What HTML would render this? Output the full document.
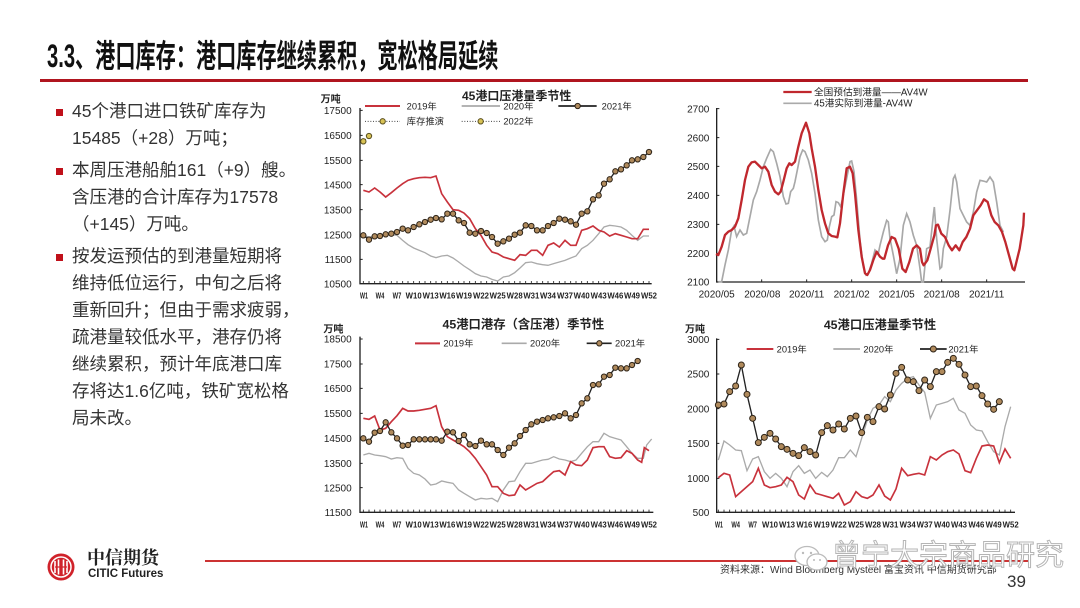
<!DOCTYPE html>
<html><head><meta charset="utf-8">
<style>
html,body{margin:0;padding:0;background:#fff;}
body{width:1080px;height:608px;position:relative;overflow:hidden;font-family:"Liberation Sans","Noto Sans CJK SC",sans-serif;}
.abs{position:absolute;}
.title{left:47px;top:40px;font-size:32px;line-height:32px;font-weight:bold;color:#111;white-space:nowrap;transform:scaleX(0.63);transform-origin:0 0;}
.bar{left:40px;top:79px;width:988px;height:3px;background:#b0151f;}
.txt{left:72px;font-size:17.5px;line-height:27px;color:#333;white-space:nowrap;}
.sq{width:7px;height:7px;background:#c0101a;left:56px;}
svg.c{position:absolute;font-family:"Liberation Sans","Noto Sans CJK SC",sans-serif;}
svg.c text{fill:#222;}
</style></head><body>

<div class="abs title">3.3、港口库存：港口库存继续累积，宽松格局延续</div>
<div class="abs bar"></div>

<div class="abs sq" style="top:109px"></div>
<div class="abs txt" style="top:98px">45个港口进口铁矿库存为<br>15485（+28）万吨；</div>
<div class="abs sq" style="top:168px"></div>
<div class="abs txt" style="top:157px">本周压港船舶161（+9）艘。<br>含压港的合计库存为17578<br>（+145）万吨。</div>
<div class="abs sq" style="top:254px"></div>
<div class="abs txt" style="top:243px">按发运预估的到港量短期将<br>维持低位运行，中旬之后将<br>重新回升；但由于需求疲弱，<br>疏港量较低水平，港存仍将<br>继续累积，预计年底港口库<br>存将达1.6亿吨，铁矿宽松格<br>局未改。</div>

<!-- Chart 1 -->
<svg class="c" style="left:310px;top:82px" width="360" height="220" viewBox="0 0 1080 660">
<defs>
<marker id="m1" viewBox="-12 -12 24 24" markerWidth="24" markerHeight="24" markerUnits="userSpaceOnUse"><circle r="8" fill="#b08a5c" stroke="#2e2418" stroke-width="3"/></marker>
</defs>
<text x="620" y="54" text-anchor="middle" font-size="36" font-weight="bold">45港口压港量季节性</text>
<text x="62" y="61" text-anchor="middle" font-size="30" font-weight="bold">万吨</text>
<g font-size="28">
<line x1="165" y1="72" x2="270" y2="72" stroke="#c8323c" stroke-width="6"/>
<text x="290" y="82">2019年</text>
<line x1="455" y1="72" x2="570" y2="72" stroke="#aaa" stroke-width="5"/>
<text x="580" y="82">2020年</text>
<line x1="745" y1="72" x2="860" y2="72" stroke="#222" stroke-width="5"/>
<circle cx="803" cy="72" r="8" fill="#b08a5c" stroke="#2e2418" stroke-width="3"/>
<text x="875" y="82">2021年</text>
<line x1="165" y1="118" x2="270" y2="118" stroke="#444" stroke-width="3" stroke-dasharray="3 5"/>
<circle cx="218" cy="118" r="8" fill="#d8c255" stroke="#5a5020" stroke-width="3"/>
<text x="290" y="128">库存推演</text>
<line x1="455" y1="118" x2="570" y2="118" stroke="#444" stroke-width="3" stroke-dasharray="3 5"/>
<circle cx="512" cy="118" r="8" fill="#d8c255" stroke="#5a5020" stroke-width="3"/>
<text x="580" y="128">2022年</text>
</g>
<g font-size="30" text-anchor="end">
<text x="125" y="96">17500</text><text x="125" y="171">16500</text><text x="125" y="246">15500</text><text x="125" y="319">14500</text><text x="125" y="394">13500</text><text x="125" y="469">12500</text><text x="125" y="543">11500</text><text x="125" y="616">10500</text>
</g>
<path d="M150 78V605H1025" stroke="#222" stroke-width="4" fill="none"/>
<path d="M150 85h8M150 160h8M150 235h8M150 308h8M150 383h8M150 458h8M150 532h8" stroke="#222" stroke-width="3"/>
<path d="M160 605v-8M177 605v-8M194 605v-8M210 605v-8M227 605v-8M244 605v-8M261 605v-8M278 605v-8M294 605v-8M311 605v-8M328 605v-8M345 605v-8M362 605v-8M378 605v-8M395 605v-8M412 605v-8M429 605v-8M446 605v-8M462 605v-8M479 605v-8M496 605v-8M513 605v-8M530 605v-8M546 605v-8M563 605v-8M580 605v-8M597 605v-8M614 605v-8M630 605v-8M647 605v-8M664 605v-8M681 605v-8M698 605v-8M714 605v-8M731 605v-8M748 605v-8M765 605v-8M782 605v-8M798 605v-8M815 605v-8M832 605v-8M849 605v-8M866 605v-8M882 605v-8M899 605v-8M916 605v-8M933 605v-8M950 605v-8M966 605v-8M983 605v-8M1000 605v-8M1017 605v-8" stroke="#222" stroke-width="2.5"/>
<g font-size="26" font-weight="bold" text-anchor="middle">
<text x="162" y="649" textLength="24" lengthAdjust="spacingAndGlyphs">W1</text><text x="210" y="649" textLength="26" lengthAdjust="spacingAndGlyphs">W4</text><text x="261" y="649" textLength="26" lengthAdjust="spacingAndGlyphs">W7</text><text x="311" y="649" textLength="48" lengthAdjust="spacingAndGlyphs">W10</text><text x="362" y="649" textLength="48" lengthAdjust="spacingAndGlyphs">W13</text><text x="412" y="649" textLength="48" lengthAdjust="spacingAndGlyphs">W16</text><text x="462" y="649" textLength="48" lengthAdjust="spacingAndGlyphs">W19</text><text x="513" y="649" textLength="48" lengthAdjust="spacingAndGlyphs">W22</text><text x="563" y="649" textLength="48" lengthAdjust="spacingAndGlyphs">W25</text><text x="614" y="649" textLength="48" lengthAdjust="spacingAndGlyphs">W28</text><text x="664" y="649" textLength="48" lengthAdjust="spacingAndGlyphs">W31</text><text x="714" y="649" textLength="48" lengthAdjust="spacingAndGlyphs">W34</text><text x="765" y="649" textLength="48" lengthAdjust="spacingAndGlyphs">W37</text><text x="815" y="649" textLength="48" lengthAdjust="spacingAndGlyphs">W40</text><text x="866" y="649" textLength="48" lengthAdjust="spacingAndGlyphs">W43</text><text x="916" y="649" textLength="48" lengthAdjust="spacingAndGlyphs">W46</text><text x="966" y="649" textLength="48" lengthAdjust="spacingAndGlyphs">W49</text><text x="1017" y="649" textLength="48" lengthAdjust="spacingAndGlyphs">W52</text>
</g>
<polyline fill="none" stroke="#aaa" stroke-width="4" points="160,460 177,465 194,462 210,460 227,458 244,458 261,460 278,475 294,488 311,498 328,505 345,512 362,522 378,527 395,522 412,520 429,528 446,540 462,552 479,563 496,575 513,582 530,585 546,592 563,597 580,585 597,582 614,572 630,558 647,542 664,540 681,545 698,548 714,550 731,545 748,540 765,535 782,528 798,522 815,500 832,490 849,475 866,455 882,435 899,430 916,432 933,435 950,445 966,460 983,475 1000,462 1017,462"/>
<polyline fill="none" stroke="#c8323c" stroke-width="5" points="160,325 177,330 194,318 210,330 227,345 244,332 261,318 278,305 294,295 311,290 328,287 345,286 362,287 378,282 395,335 412,360 429,383 446,385 462,393 479,410 496,440 513,460 530,490 546,510 563,515 580,525 597,530 614,535 630,518 647,520 664,505 681,505 698,520 714,490 731,483 748,495 765,475 782,490 798,490 815,445 832,440 849,432 866,445 882,450 899,462 916,455 933,460 950,465 966,470 983,470 1000,442 1017,442"/>
<polyline fill="none" stroke="#222" stroke-width="4" marker-start="url(#m1)" marker-mid="url(#m1)" marker-end="url(#m1)" points="160,460 177,473 194,463 210,462 227,457 244,455 261,450 278,440 294,445 311,435 328,427 345,420 362,413 378,408 395,412 412,395 429,395 446,415 462,423 479,452 496,455 513,447 530,453 546,465 563,485 580,478 597,470 614,458 630,452 647,430 664,432 681,445 698,445 714,432 731,423 748,410 765,413 782,418 798,428 815,395 832,388 849,352 866,340 882,305 899,292 916,268 933,262 950,250 966,235 983,232 1000,225 1017,210"/>
<line x1="160" y1="178" x2="177" y2="162" stroke="#444" stroke-width="3" stroke-dasharray="3 4"/>
<circle cx="160" cy="178" r="8" fill="#d8c255" stroke="#5a5020" stroke-width="3"/>
<circle cx="177" cy="162" r="8" fill="#d8c255" stroke="#5a5020" stroke-width="3"/>
</svg>

<!-- Chart 2 -->
<svg class="c" style="left:670px;top:82px" width="370" height="220" viewBox="0 0 1110 660">
<g font-size="29">
<line x1="340" y1="30" x2="425" y2="30" stroke="#c0282e" stroke-width="7"/>
<text x="432" y="40">全国预估到港量——AV4W</text>
<line x1="340" y1="64" x2="425" y2="64" stroke="#aaa" stroke-width="5"/>
<text x="432" y="74">45港实际到港量-AV4W</text>
</g>
<g font-size="30" text-anchor="end">
<text x="118" y="91">2700</text><text x="118" y="178">2600</text><text x="118" y="264">2500</text><text x="118" y="351">2400</text><text x="118" y="438">2300</text><text x="118" y="525">2200</text><text x="118" y="611">2100</text>
</g>
<g font-size="30" text-anchor="middle">
<text x="140" y="646">2020/05</text><text x="277" y="646">2020/08</text><text x="410" y="646">2020/11</text><text x="545" y="646">2021/02</text><text x="680" y="646">2021/05</text><text x="815" y="646">2021/08</text><text x="950" y="646">2021/11</text>
</g>
<path d="M140 78V600H1065" stroke="#222" stroke-width="4" fill="none"/>
<path d="M140 80h8M140 167h8M140 253h8M140 340h8M140 427h8M140 514h8M275 600v-8M410 600v-8M545 600v-8M680 600v-8M815 600v-8M950 600v-8" stroke="#222" stroke-width="3"/>
<polyline fill="none" stroke="#a8a8a8" stroke-width="5" points="145,599 155,599 165,549 175,504 185,444 192,432 200,464 210,444 220,459 230,454 240,404 250,354 260,329 270,294 280,254 290,229 302,202 310,209 320,244 330,284 340,344 348,366 355,364 362,329 370,319 375,299 382,264 390,224 398,204 405,209 415,234 425,274 435,334 445,414 455,464 465,479 472,474 478,434 485,404 492,399 498,359 505,362 512,374 520,339 530,289 540,239 545,237 552,269 560,354 570,474 580,554 588,579 595,574 605,544 615,504 625,514 630,490 640,450 650,415 655,420 660,470 670,520 680,575 690,530 700,430 710,395 720,420 730,460 740,490 750,560 755,600 760,600 770,500 780,495 790,400 793,375 800,470 810,560 815,555 820,500 830,465 840,385 850,290 855,280 860,300 870,380 880,400 890,420 900,430 910,390 920,330 930,295 940,297 950,300 960,285 970,300 980,360 990,430 1000,450"/>
<polyline fill="none" stroke="#c0282e" stroke-width="7" stroke-linejoin="round" points="138,516 145,519 155,494 165,459 175,449 185,444 195,434 205,409 215,354 225,294 235,254 245,241 255,239 265,249 275,259 285,254 295,269 305,309 315,329 325,337 332,329 340,299 350,259 358,244 365,249 375,239 385,194 395,154 408,122 418,154 425,199 435,254 445,324 455,384 465,424 475,454 485,462 495,464 502,466 510,424 520,334 530,259 540,254 548,274 555,334 565,444 575,524 585,574 592,579 600,564 610,534 620,509 630,524 638,530 643,530 654,490 665,465 675,470 686,500 697,560 707,570 718,540 729,500 740,490 750,500 756,540 761,550 772,535 782,500 793,460 798,430 804,428 814,455 825,465 836,490 846,505 857,490 868,505 878,480 889,465 900,440 910,400 921,385 932,370 942,352 953,360 964,400 974,420 985,430 996,450 1006,480 1017,520 1028,560 1033,565 1038,545 1049,500 1060,430 1062,392"/>
</svg>

<!-- Chart 3 -->
<svg class="c" style="left:310px;top:305px" width="360" height="225" viewBox="0 0 1080 675">
<defs>
<marker id="m3" viewBox="-12 -12 24 24" markerWidth="24" markerHeight="24" markerUnits="userSpaceOnUse"><circle r="8" fill="#b08a5c" stroke="#2e2418" stroke-width="3"/></marker>
</defs>
<text x="640" y="70" text-anchor="middle" font-size="37" font-weight="bold">45港口港存（含压港）季节性</text>
<text x="70" y="83" text-anchor="middle" font-size="30" font-weight="bold">万吨</text>
<g font-size="28">
<line x1="315" y1="115" x2="390" y2="115" stroke="#c8323c" stroke-width="6"/>
<text x="400" y="125">2019年</text>
<line x1="575" y1="115" x2="650" y2="115" stroke="#aaa" stroke-width="5"/>
<text x="660" y="125">2020年</text>
<line x1="830" y1="115" x2="905" y2="115" stroke="#222" stroke-width="5"/>
<circle cx="868" cy="115" r="8" fill="#b08a5c" stroke="#2e2418" stroke-width="3"/>
<text x="915" y="125">2021年</text>
</g>
<g font-size="30" text-anchor="end">
<text x="125" y="113">18500</text><text x="125" y="188">17500</text><text x="125" y="261">16500</text><text x="125" y="336">15500</text><text x="125" y="411">14500</text><text x="125" y="486">13500</text><text x="125" y="559">12500</text><text x="125" y="633">11500</text>
</g>
<path d="M150 95V622H1030" stroke="#222" stroke-width="4" fill="none"/>
<path d="M150 102h8M150 177h8M150 250h8M150 325h8M150 400h8M150 475h8M150 548h8" stroke="#222" stroke-width="3"/>
<path d="M160 622v-8M177 622v-8M194 622v-8M210 622v-8M227 622v-8M244 622v-8M261 622v-8M278 622v-8M294 622v-8M311 622v-8M328 622v-8M345 622v-8M362 622v-8M378 622v-8M395 622v-8M412 622v-8M429 622v-8M446 622v-8M462 622v-8M479 622v-8M496 622v-8M513 622v-8M530 622v-8M546 622v-8M563 622v-8M580 622v-8M597 622v-8M614 622v-8M630 622v-8M647 622v-8M664 622v-8M681 622v-8M698 622v-8M714 622v-8M731 622v-8M748 622v-8M765 622v-8M782 622v-8M798 622v-8M815 622v-8M832 622v-8M849 622v-8M866 622v-8M882 622v-8M899 622v-8M916 622v-8M933 622v-8M950 622v-8M966 622v-8M983 622v-8M1000 622v-8M1017 622v-8" stroke="#222" stroke-width="2.5"/>
<g font-size="26" font-weight="bold" text-anchor="middle">
<text x="162" y="668" textLength="24" lengthAdjust="spacingAndGlyphs">W1</text><text x="210" y="668" textLength="26" lengthAdjust="spacingAndGlyphs">W4</text><text x="261" y="668" textLength="26" lengthAdjust="spacingAndGlyphs">W7</text><text x="311" y="668" textLength="48" lengthAdjust="spacingAndGlyphs">W10</text><text x="362" y="668" textLength="48" lengthAdjust="spacingAndGlyphs">W13</text><text x="412" y="668" textLength="48" lengthAdjust="spacingAndGlyphs">W16</text><text x="462" y="668" textLength="48" lengthAdjust="spacingAndGlyphs">W19</text><text x="513" y="668" textLength="48" lengthAdjust="spacingAndGlyphs">W22</text><text x="563" y="668" textLength="48" lengthAdjust="spacingAndGlyphs">W25</text><text x="614" y="668" textLength="48" lengthAdjust="spacingAndGlyphs">W28</text><text x="664" y="668" textLength="48" lengthAdjust="spacingAndGlyphs">W31</text><text x="714" y="668" textLength="48" lengthAdjust="spacingAndGlyphs">W34</text><text x="765" y="668" textLength="48" lengthAdjust="spacingAndGlyphs">W37</text><text x="815" y="668" textLength="48" lengthAdjust="spacingAndGlyphs">W40</text><text x="866" y="668" textLength="48" lengthAdjust="spacingAndGlyphs">W43</text><text x="916" y="668" textLength="48" lengthAdjust="spacingAndGlyphs">W46</text><text x="966" y="668" textLength="48" lengthAdjust="spacingAndGlyphs">W49</text><text x="1017" y="668" textLength="48" lengthAdjust="spacingAndGlyphs">W52</text>
</g>
<polyline fill="none" stroke="#aaa" stroke-width="4" points="160,450 177,445 194,450 210,452 227,455 244,462 261,458 278,460 294,490 311,505 328,510 345,522 362,540 378,537 395,528 412,532 429,535 446,555 462,565 479,575 496,585 513,580 530,582 546,580 563,590 580,555 597,530 614,528 630,500 647,475 664,475 681,470 698,465 714,463 731,455 748,462 765,465 782,470 798,465 815,445 832,425 849,410 866,410 882,385 899,395 916,400 933,405 950,425 966,445 983,460 1000,460 1010,420 1025,402"/>
<polyline fill="none" stroke="#c8323c" stroke-width="5" points="160,340 177,343 194,333 210,375 227,370 244,350 261,332 278,310 294,318 311,318 328,316 345,313 362,310 378,302 395,365 412,395 429,405 446,415 462,425 479,440 496,460 513,485 530,510 546,545 563,545 580,565 597,572 614,570 630,540 647,555 664,545 681,535 698,530 714,515 731,500 748,497 765,510 782,470 798,480 815,482 832,465 849,428 866,425 882,425 899,455 916,460 933,458 950,437 966,445 983,465 995,472 1003,428 1017,437"/>
<polyline fill="none" stroke="#222" stroke-width="4" marker-start="url(#m3)" marker-mid="url(#m3)" marker-end="url(#m3)" points="160,400 177,410 194,383 210,378 227,352 244,382 261,400 278,422 294,420 311,403 328,403 345,403 362,403 378,403 395,407 412,380 429,382 446,408 462,390 479,418 496,423 513,407 530,418 546,418 563,435 580,450 597,428 614,415 630,393 647,375 664,358 681,350 698,345 714,340 731,337 748,333 765,325 782,340 798,330 815,295 832,280 849,240 866,238 882,215 899,210 916,188 933,190 950,190 966,180 983,168"/>
</svg>

<!-- Chart 4 -->
<svg class="c" style="left:670px;top:305px" width="370" height="225" viewBox="0 0 1110 675">
<defs>
<marker id="m4" viewBox="-13 -13 26 26" markerWidth="26" markerHeight="26" markerUnits="userSpaceOnUse"><circle r="9" fill="#b08a5c" stroke="#2e2418" stroke-width="3"/></marker>
</defs>
<text x="630" y="72" text-anchor="middle" font-size="37" font-weight="bold">45港口压港量季节性</text>
<text x="75" y="83" text-anchor="middle" font-size="30" font-weight="bold">万吨</text>
<g font-size="28">
<line x1="230" y1="132" x2="310" y2="132" stroke="#c8323c" stroke-width="6"/>
<text x="320" y="142">2019年</text>
<line x1="490" y1="132" x2="570" y2="132" stroke="#aaa" stroke-width="5"/>
<text x="580" y="142">2020年</text>
<line x1="750" y1="132" x2="830" y2="132" stroke="#222" stroke-width="5"/>
<circle cx="790" cy="132" r="9" fill="#b08a5c" stroke="#2e2418" stroke-width="3"/>
<text x="835" y="142">2021年</text>
</g>
<g font-size="30" text-anchor="end">
<text x="118" y="114">3000</text><text x="118" y="218">2500</text><text x="118" y="322">2000</text><text x="118" y="426">1500</text><text x="118" y="531">1000</text><text x="118" y="633">500</text>
</g>
<path d="M140 100V622H1035" stroke="#222" stroke-width="4" fill="none"/>
<path d="M140 103h8M140 207h8M140 311h8M140 415h8M140 520h8" stroke="#222" stroke-width="3"/>
<path d="M145 622v-8M162 622v-8M179 622v-8M197 622v-8M214 622v-8M231 622v-8M248 622v-8M265 622v-8M283 622v-8M300 622v-8M317 622v-8M334 622v-8M351 622v-8M369 622v-8M386 622v-8M403 622v-8M420 622v-8M437 622v-8M455 622v-8M472 622v-8M489 622v-8M506 622v-8M523 622v-8M541 622v-8M558 622v-8M575 622v-8M592 622v-8M609 622v-8M627 622v-8M644 622v-8M661 622v-8M678 622v-8M695 622v-8M713 622v-8M730 622v-8M747 622v-8M764 622v-8M781 622v-8M799 622v-8M816 622v-8M833 622v-8M850 622v-8M867 622v-8M885 622v-8M902 622v-8M919 622v-8M936 622v-8M953 622v-8M971 622v-8M988 622v-8M1005 622v-8M1022 622v-8" stroke="#222" stroke-width="2.5"/>
<g font-size="26" font-weight="bold" text-anchor="middle">
<text x="147" y="668" textLength="24" lengthAdjust="spacingAndGlyphs">W1</text><text x="197" y="668" textLength="26" lengthAdjust="spacingAndGlyphs">W4</text><text x="248" y="668" textLength="26" lengthAdjust="spacingAndGlyphs">W7</text><text x="300" y="668" textLength="48" lengthAdjust="spacingAndGlyphs">W10</text><text x="351" y="668" textLength="48" lengthAdjust="spacingAndGlyphs">W13</text><text x="403" y="668" textLength="48" lengthAdjust="spacingAndGlyphs">W16</text><text x="455" y="668" textLength="48" lengthAdjust="spacingAndGlyphs">W19</text><text x="506" y="668" textLength="48" lengthAdjust="spacingAndGlyphs">W22</text><text x="558" y="668" textLength="48" lengthAdjust="spacingAndGlyphs">W25</text><text x="609" y="668" textLength="48" lengthAdjust="spacingAndGlyphs">W28</text><text x="661" y="668" textLength="48" lengthAdjust="spacingAndGlyphs">W31</text><text x="713" y="668" textLength="48" lengthAdjust="spacingAndGlyphs">W34</text><text x="764" y="668" textLength="48" lengthAdjust="spacingAndGlyphs">W37</text><text x="816" y="668" textLength="48" lengthAdjust="spacingAndGlyphs">W40</text><text x="867" y="668" textLength="48" lengthAdjust="spacingAndGlyphs">W43</text><text x="919" y="668" textLength="48" lengthAdjust="spacingAndGlyphs">W46</text><text x="971" y="668" textLength="48" lengthAdjust="spacingAndGlyphs">W49</text><text x="1022" y="668" textLength="48" lengthAdjust="spacingAndGlyphs">W52</text>
</g>
<polyline fill="none" stroke="#aaa" stroke-width="4" points="145,465 162,408 179,420 197,435 214,437 231,497 248,462 265,455 283,500 300,520 317,505 334,520 351,545 369,500 386,482 403,505 420,495 437,520 455,502 472,515 489,495 506,458 523,458 541,435 558,455 575,400 592,345 609,310 627,300 644,275 661,290 678,255 695,235 713,220 730,215 747,240 764,262 781,340 799,300 816,295 833,290 850,280 867,315 885,325 902,360 919,375 936,378 953,410 971,440 988,450 1005,365 1022,305"/>
<polyline fill="none" stroke="#c8323c" stroke-width="5" points="145,518 162,505 179,510 197,575 214,560 231,545 248,530 265,490 283,540 300,548 317,545 334,540 351,517 369,530 386,570 403,582 420,540 437,565 455,570 472,575 489,580 506,565 523,600 541,590 558,560 575,575 592,580 609,570 627,540 644,573 661,585 678,552 695,490 713,512 730,508 747,505 764,510 781,455 799,465 816,450 833,440 850,435 867,447 885,497 902,503 919,460 936,423 953,420 971,423 988,473 1005,432 1022,460"/>
<polyline fill="none" stroke="#222" stroke-width="4" marker-start="url(#m4)" marker-mid="url(#m4)" marker-end="url(#m4)" points="145,300 162,297 179,260 197,243 214,180 231,268 248,340 265,413 283,397 300,385 317,402 334,425 351,433 369,445 386,452 403,428 420,440 437,450 455,383 472,362 489,375 506,357 523,372 541,340 558,333 575,383 592,337 609,350 627,305 644,312 661,270 678,205 695,187 713,225 730,230 747,257 764,225 781,245 799,200 816,200 833,172 850,160 867,178 885,210 902,245 919,243 936,272 953,297 971,313 988,290"/>
</svg>

<!-- Footer -->
<div class="abs" style="left:205px;top:560px;width:825px;height:2px;background:#cc3333;"></div>
<svg class="abs" style="left:46px;top:552px" width="30" height="30" viewBox="0 0 30 30">
<circle cx="15" cy="15" r="13.5" fill="#d0222a"/>
<circle cx="15" cy="15" r="10" fill="none" stroke="#fff" stroke-width="1.5"/>
<path d="M9 9v12M12.5 7.5v15M17.5 7.5v15M21 9v12" stroke="#fff" stroke-width="1.6"/>
<path d="M9 15h12" stroke="#d0222a" stroke-width="1.2"/>
</svg>
<div class="abs" style="left:87px;top:548px;font-family:'Liberation Serif','Noto Serif CJK SC',serif;font-size:18px;line-height:20px;font-weight:bold;color:#222;white-space:nowrap;">中信期货</div>
<div class="abs" style="left:88px;top:568px;font-size:11.5px;line-height:13px;font-weight:bold;color:#222;white-space:nowrap;">CITIC Futures</div>

<div class="abs" style="left:720px;top:565px;font-size:10px;line-height:12px;color:#333;white-space:nowrap;">资料来源：Wind Bloomberg Mysteel 富宝资讯 中信期货研究部</div>
<div class="abs" style="left:1007px;top:573px;font-size:17px;line-height:18px;color:#333;">39</div>

<svg class="abs" style="left:792px;top:543px" width="40" height="32" viewBox="0 0 40 32">
<ellipse cx="15" cy="13" rx="12" ry="9.5" fill="#fff" stroke="#bbb" stroke-width="1.3"/>
<ellipse cx="25" cy="19" rx="10" ry="8" fill="#fff" stroke="#bbb" stroke-width="1.3"/>
<circle cx="11" cy="10" r="1.2" fill="#bbb"/><circle cx="19" cy="10" r="1.2" fill="#bbb"/>
<circle cx="22" cy="17" r="1" fill="#bbb"/><circle cx="28" cy="17" r="1" fill="#bbb"/>
</svg>
<div class="abs" style="left:832px;top:540px;font-size:29px;line-height:32px;color:#fff;-webkit-text-stroke:1px #b5b5b5;white-space:nowrap;">曾宁大宗商品研究</div>

</body></html>
